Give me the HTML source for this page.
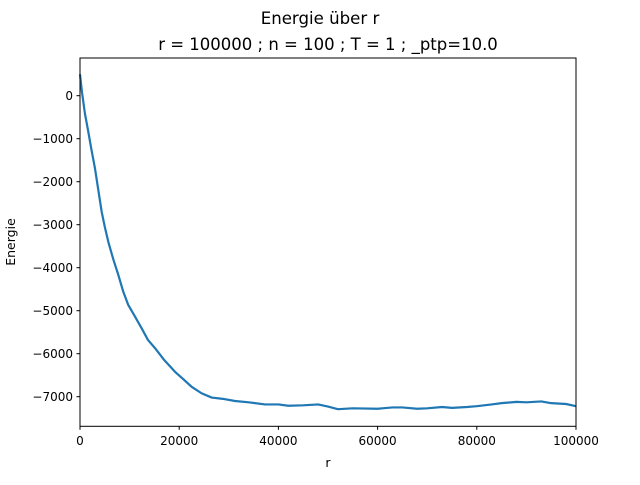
<!DOCTYPE html>
<html><head><meta charset="utf-8"><style>body{margin:0;background:#fff}svg text{font-family:"DejaVu Sans","Liberation Sans",sans-serif;fill:#000}</style></head>
<body>
<svg width="640" height="480" xmlns="http://www.w3.org/2000/svg">
<text x="320" y="24" font-size="16.6" text-anchor="middle">Energie über r</text>
<text x="328" y="50" font-size="16.5" text-anchor="middle">r = 100000 ; n = 100 ; T = 1 ; _ptp=10.0</text>
<g id="plot"></g>
<rect x="80" y="58" width="496" height="368.3" fill="none" stroke="#000" stroke-width="1"/>
<text x="328" y="467" font-size="12.5" text-anchor="middle">r</text>
<text transform="translate(15,242) rotate(-90)" font-size="12.5" text-anchor="middle">Energie</text>
</svg>
<script>
const rVals=[0,400,1000,1670,2300,3020,3700,4370,5000,5710,6700,7730,8700,9740,11000,12430,13700,15120,17000,19150,20800,22510,24500,26550,28800,31250,34000,37300,40000,42000,45000,48000,50000,52000,55000,60000,63000,65000,68000,70000,73000,75000,78000,80000,83000,85000,88000,90000,93000,95000,98000,100000];
const energy=[500,80,-420,-837,-1250,-1690,-2200,-2700,-3050,-3400,-3800,-4170,-4550,-4870,-5120,-5410,-5680,-5870,-6150,-6420,-6590,-6770,-6920,-7020,-7050,-7100,-7130,-7180,-7180,-7210,-7200,-7180,-7230,-7290,-7270,-7280,-7250,-7250,-7280,-7270,-7240,-7260,-7240,-7220,-7180,-7150,-7120,-7130,-7110,-7150,-7170,-7220];
const xTicks=[0,20000,40000,60000,80000,100000];
const yTicks=[0,-1000,-2000,-3000,-4000,-5000,-6000,-7000];
const X=v=>80+v/100000*496;
const Y=v=>95.7-v/1000*43;
const NS="http://www.w3.org/2000/svg";
const svg=document.querySelector('svg'), g=document.getElementById('plot');
function mk(t,a,p){const e=document.createElementNS(NS,t);for(const k in a)e.setAttribute(k,a[k]);(p||svg).appendChild(e);return e;}
const line=mk('polyline',{points:rVals.map((r,i)=>X(r)+','+Y(energy[i])).join(' '),fill:'none',stroke:'#1f77b4','stroke-width':2.2,'stroke-linejoin':'round'},g);


xTicks.forEach(v=>{const x=X(v);
const t=mk('line',{x1:x,x2:x,y1:426.3,y2:429.8,stroke:'#000'});


const l=mk('text',{x:x,y:445,'font-size':12,'text-anchor':'middle'});l.textContent=v;

});
yTicks.forEach(v=>{const y=Y(v);
const t=mk('line',{x1:76.5,x2:80,y1:y,y2:y,stroke:'#000'});


const l=mk('text',{x:73,y:y+4.5,'font-size':12,'text-anchor':'end'});l.textContent=v===0?'0':'\u2212'+(-v);

});
</script>
</body></html>
